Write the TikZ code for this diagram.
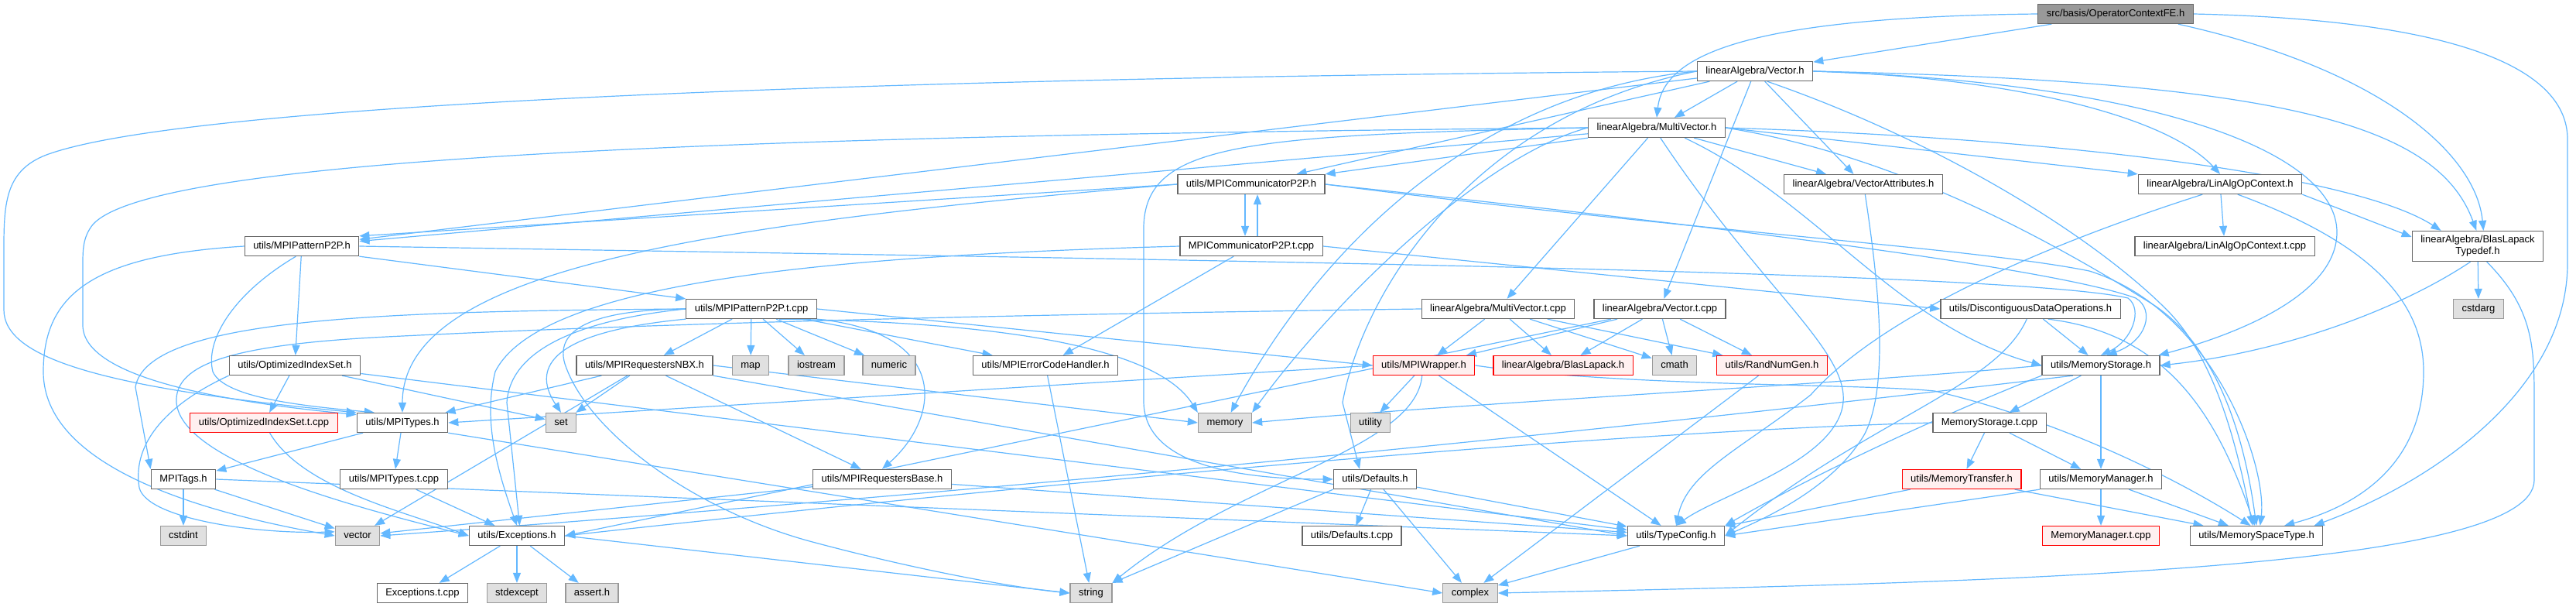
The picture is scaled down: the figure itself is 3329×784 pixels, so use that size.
\documentclass[tikz,border=0pt]{standalone}
\usepackage{fontspec}
\setmainfont{Liberation Sans}
\usetikzlibrary{arrows.meta,backgrounds}
\definecolor{edgeblue}{HTML}{63B8FF}
\definecolor{boxedge}{HTML}{666666}
\definecolor{sysedge}{HTML}{999999}
\definecolor{sysfill}{HTML}{E0E0E0}
\definecolor{rootfill}{HTML}{999999}
\definecolor{cutedge}{HTML}{FF0000}
\definecolor{cutfill}{HTML}{FFF0F0}

\begin{document}
\begin{tikzpicture}[
  x=1pt,y=-1pt,
  font=\fontsize{13}{15}\selectfont,
  box/.style={draw=boxedge,fill=white,line width=1.3pt,inner xsep=11pt,inner ysep=3pt,minimum height=25pt},
  hdr/.style={box,text height=9.5pt,text depth=2.5pt},
  syshdr/.style={hdr,draw=sysedge,fill=sysfill},
  cuthdr/.style={hdr,draw=cutedge,fill=cutfill},
  roothdr/.style={hdr,fill=rootfill},
  incl/.style={draw=edgeblue,line width=1.2pt,-{Triangle[length=13pt,width=10pt]}}
]
\useasboundingbox (0,0) rectangle (3329,784);

% Top ranks
\node[roothdr] (root) at (2734,18) {src/basis/OperatorContextFE.h};
\node[hdr] (vec) at (2268,92) {linearAlgebra/Vector.h};
\node[hdr] (mvec) at (2141,165) {linearAlgebra/MultiVector.h};
\node[hdr] (comm) at (1617,238) {utils/MPICommunicatorP2P.h};
\node[hdr] (vattr) at (2408,238) {linearAlgebra/VectorAttributes.h};
\node[hdr] (linctx) at (2869,238) {linearAlgebra/LinAlgOpContext.h};
\node[box,align=center,minimum height=39pt] (blastd) at (3202,318) {linearAlgebra/BlasLapack\\Typedef.h};
\node[hdr] (pat) at (390,318) {utils/MPIPatternP2P.h};
\node[hdr] (commt) at (1617,318) {MPICommunicatorP2P.t.cpp};
\node[hdr] (linctxt) at (2875,318) {linearAlgebra/LinAlgOpContext.t.cpp};

% Middle ranks
\node[hdr] (patt) at (971,399) {utils/MPIPatternP2P.t.cpp};
\node[hdr] (mvect) at (1936,399) {linearAlgebra/MultiVector.t.cpp};
\node[hdr] (vect) at (2145,399) {linearAlgebra/Vector.t.cpp};
\node[hdr] (discont) at (2624,399) {utils/DiscontiguousDataOperations.h};
\node[syshdr] (cstdarg) at (3203,399) {cstdarg};

\node[hdr] (optset) at (381,472) {utils/OptimizedIndexSet.h};
\node[hdr] (nbx) at (833,472) {utils/MPIRequestersNBX.h};
\node[syshdr] (map) at (970,472) {map};
\node[syshdr] (iostream) at (1055,472) {iostream};
\node[syshdr] (numeric) at (1149,472) {numeric};
\node[hdr] (errh) at (1351,472) {utils/MPIErrorCodeHandler.h};
\node[cuthdr] (wrap) at (1840,472) {utils/MPIWrapper.h};
\node[cuthdr] (blas) at (2020,472) {linearAlgebra/BlasLapack.h};
\node[syshdr] (cmath) at (2164,472) {cmath};
\node[cuthdr] (rng) at (2290,472) {utils/RandNumGen.h};
\node[hdr] (mstor) at (2715,472) {utils/MemoryStorage.h};

\node[cuthdr] (optsett) at (341,546) {utils/OptimizedIndexSet.t.cpp};
\node[hdr] (mtypes) at (520,546) {utils/MPITypes.h};
\node[syshdr] (set) at (725,546) {set};
\node[syshdr] (memory) at (1583,546) {memory};
\node[syshdr] (utility) at (1771,546) {utility};
\node[hdr] (mstort) at (2571,546) {MemoryStorage.t.cpp};

% Bottom ranks
\node[hdr] (tags) at (237,619) {MPITags.h};
\node[hdr] (mtypest) at (509,619) {utils/MPITypes.t.cpp};
\node[hdr] (rbase) at (1140,619) {utils/MPIRequestersBase.h};
\node[hdr] (defs) at (1777,619) {utils/Defaults.h};
\node[cuthdr] (mtrans) at (2535,619) {utils/MemoryTransfer.h};
\node[hdr] (mman) at (2715,619) {utils/MemoryManager.h};

\node[syshdr] (cstdint) at (237,692) {cstdint};
\node[syshdr] (vector) at (462,692) {vector};
\node[hdr] (exc) at (668,692) {utils/Exceptions.h};
\node[hdr] (defst) at (1747,692) {utils/Defaults.t.cpp};
\node[hdr] (tconf) at (2166,692) {utils/TypeConfig.h};
\node[cuthdr] (mmant) at (2715,692) {MemoryManager.t.cpp};
\node[hdr] (mspace) at (2916,692) {utils/MemorySpaceType.h};

\node[hdr] (exct) at (546,766) {Exceptions.t.cpp};
\node[syshdr] (stdexcept) at (668,766) {stdexcept};
\node[syshdr] (asserth) at (765,766) {assert.h};
\node[syshdr] (string) at (1410,766) {string};
\node[syshdr] (complex) at (1900,766) {complex};

\begin{scope}[on background layer]
\fill[white] (0,0) rectangle (3329,784);

% Root includes
\draw[incl] (root) -- (vec);
\draw[incl] (root.west) .. controls (2260,22) and (2150,70) .. (mvec.north);
\draw[incl] ([xshift=-20pt]root.south east) .. controls (3080,90) and (3200,200) .. (blastd.70);
\draw[incl] (root.east) .. controls (3150,25) and (3318,80) .. (3318,180) -- (3318,340)
  .. controls (3318,500) and (3150,620) .. (mspace.10);

% Vector.h
\draw[incl] (vec) -- (mvec);
\draw[incl] (vec) -- (comm);
\draw[incl] (vec) -- (vattr);
\draw[incl] (vec) -- (vect);
\draw[incl] (vec) -- (pat);
\draw[incl] (vec.east) .. controls (2600,100) and (2800,150) .. (linctx.north);
\draw[incl] (vec.east) .. controls (2950,105) and (3150,160) .. (blastd.95);
\draw[incl] (vec.east) .. controls (2800,108) and (3020,200) .. (3020,300)
  .. controls (3020,390) and (2860,440) .. (mstor.10);
\draw[incl] (vec.west) .. controls (1200,100) and (250,130) .. (60,200)
  .. controls (8,220) and (5,260) .. (5,320) -- (5,400)
  .. controls (5,460) and (120,500) .. (mtypes.north west);
\draw[incl] (vec.west) .. controls (1900,120) and (1700,330) .. (memory.60);
\draw[incl] (vec.west) .. controls (1900,150) and (1760,380) .. (1735,520) -- ([xshift=-20pt]defs.north);
\draw[incl] (vec.-40) .. controls (2500,180) and (2700,300) .. (2800,400)
  .. controls (2870,470) and (2895,600) .. (mspace.110);

% MultiVector.h
\draw[incl] (mvec.south west) -- (comm.north east);
\draw[incl] (mvec) -- (vattr);
\draw[incl] (mvec) -- (pat);
\draw[incl] (mvec) -- (mvect);
\draw[incl] (mvec.east) -- (linctx.north west);
\draw[incl] (mvec.east) .. controls (2700,180) and (3050,230) .. (blastd.157);
\draw[incl] (mvec.-20) .. controls (2350,260) and (2450,420) .. (mstor.west);
\draw[incl] (mvec.west) .. controls (1000,175) and (200,200) .. (120,290)
  .. controls (108,305) and (107,320) .. (107,340) -- (107,420)
  .. controls (107,490) and (300,520) .. (mtypes.170);
\draw[incl] (mvec.west) .. controls (1920,200) and (1730,380) .. (memory.north east);
\draw[incl] (mvec.west) .. controls (1600,175) and (1475,185) .. (1478,300) -- (1478,520)
  .. controls (1480,600) and (1600,619) .. (defs.west);
\draw[incl] (mvec.-70) .. controls (2280,380) and (2400,460) .. (2380,530)
  .. controls (2360,600) and (2220,640) .. (tconf.north);
\draw[incl] (mvec.east) .. controls (2450,200) and (2650,310) .. (2785,395)
  .. controls (2880,460) and (2905,600) .. (mspace.north);

% MPICommunicatorP2P
\draw[incl] ([xshift=-8pt]comm.south) -- ([xshift=-8pt]commt.north);
\draw[incl] ([xshift=8pt]commt.north) -- ([xshift=8pt]comm.south);
\draw[incl] (comm.west) -- (pat.north east);
\draw[incl] (comm.west) .. controls (900,290) and (520,350) .. (mtypes.north);
\draw[incl] (comm.east) .. controls (2200,290) and (2650,345) .. (2760,385)
  .. controls (2785,400) and (2775,440) .. (mstor.60);
\draw[incl] (comm.east) .. controls (2200,300) and (2550,320) .. (2700,350)
  .. controls (2860,400) and (2930,600) .. (mspace.70);
\draw[incl] (commt) -- (errh);
\draw[incl] (commt.east) -- (discont.west);
\draw[incl] (commt.west) .. controls (1100,330) and (700,360) .. (640,480)
  .. controls (625,540) and (640,600) .. (exc.north);

% MPIPatternP2P
\draw[incl] (pat) -- (optset);
\draw[incl] (pat.south east) -- (patt.north west);
\draw[incl] (pat.240) .. controls (300,380) and (265,440) .. (275,480)
  .. controls (290,515) and (400,525) .. (mtypes.160);
\draw[incl] (pat.west) .. controls (120,330) and (56,380) .. (56,480)
  .. controls (56,600) and (250,660) .. (vector.west);
\draw[incl] (pat.east) .. controls (1500,335) and (2600,350) .. (2750,385)
  .. controls (2770,400) and (2755,440) .. (mstor.north);
\draw[incl] (patt) -- (nbx);
\draw[incl] (patt) -- (map);
\draw[incl] (patt) -- (iostream);
\draw[incl] (patt) -- (numeric);
\draw[incl] (patt) -- (errh);
\draw[incl] (patt.east) -- (wrap.west);
\draw[incl] (patt.-20) .. controls (1250,415) and (1490,440) .. (memory.north west);
\draw[incl] (patt.south east) .. controls (1230,430) and (1215,540) .. (rbase.north);
\draw[incl] (patt.west) .. controls (500,402) and (190,410) .. (175,500) -- (tags.north west);
\draw[incl] (patt.west) .. controls (780,410) and (660,440) .. (655,520) -- (exc.75);
\draw[incl] (patt.south west) .. controls (700,430) and (690,480) .. (set.north);
\draw[incl] (patt.west) .. controls (780,400) and (715,420) .. (730,470)
  .. controls (760,560) and (900,660) .. (1050,700)
  .. controls (1200,740) and (1320,760) .. (string.west);

% Index sets and requesters
\draw[incl] (optset) -- (optsett);
\draw[incl] (optset) -- (set);
\draw[incl] (optset) -- (tconf);
\draw[incl] (optset.south west) .. controls (220,520) and (170,570) .. (180,630)
  .. controls (190,670) and (330,690) .. (vector.170);
\draw[incl] (optsett.-60) .. controls (390,630) and (520,660) .. (exc.west);
\draw[incl] (nbx) -- (rbase);
\draw[incl] (nbx) -- (mtypes);
\draw[incl] (nbx) -- (set);
\draw[incl] (nbx) -- (vector);
\draw[incl] (nbx.east) -- (memory.west);
\draw[incl] (nbx.south east) -- (tconf.west);
\draw[incl] (rbase) -- (vector);
\draw[incl] (rbase) -- (tconf);
\draw[incl] (errh) -- (string);

% MPIWrapper
\draw[incl] (wrap) -- (utility);
\draw[incl] (wrap) -- (tconf);
\draw[incl] (wrap.west) -- (mtypes.east);
\draw[incl] (wrap.-100) .. controls (1830,580) and (1600,620) .. (string.north east);
\draw[incl] (wrap.east) .. controls (2100,500) and (2400,495) .. (2500,505)
  .. controls (2650,540) and (2800,610) .. (mspace.120);

% Template sources
\draw[incl] (mvect) -- (wrap);
\draw[incl] (mvect) -- (blas);
\draw[incl] (mvect) -- (cmath);
\draw[incl] (mvect) -- (rng);
\draw[incl] (mvect.west) .. controls (1400,405) and (900,415) .. (500,435)
  .. controls (300,445) and (225,470) .. (228,520)
  .. controls (235,600) and (480,660) .. (exc.west);
\draw[incl] (vect) -- (wrap);
\draw[incl] (vect) -- (blas);
\draw[incl] (vect) -- (cmath);
\draw[incl] (vect) -- (rng);
\draw[incl] (vect) -- (exc.east);
\draw[incl] (rng) -- (complex);

% Linear algebra context
\draw[incl] (vattr.-80) .. controls (2430,380) and (2440,500) .. (2410,560)
  .. controls (2370,630) and (2280,670) .. (tconf.east);
\draw[incl] (linctx) -- (linctxt);
\draw[incl] (linctx.south east) -- (blastd.172);
\draw[incl] (linctx.-30) .. controls (3080,320) and (3132,400) .. (3132,480)
  .. controls (3132,590) and (3060,650) .. (mspace.20);
\draw[incl] (linctx.210) .. controls (2600,330) and (2420,420) .. (2340,510)
  .. controls (2250,580) and (2180,610) .. (tconf.north);
\draw[incl] (blastd) -- (cstdarg);
\draw[incl] (blastd.-115) .. controls (3100,400) and (2950,455) .. (mstor.east);
\draw[incl] (blastd.-60) .. controls (3275,400) and (3275,450) .. (3275,520) -- (3275,620)
  .. controls (3275,735) and (2600,752) .. (complex.east);

% Memory
\draw[incl] (discont) -- (mstor);
\draw[incl] (discont.-30) .. controls (2790,430) and (2860,520) .. (mspace.100);
\draw[incl] (discont.-110) .. controls (2580,500) and (2420,540) .. (tconf.east);
\draw[incl] (mstor) -- (mstort);
\draw[incl] (mstor) -- (mman);
\draw[incl] (mstor.west) .. controls (2400,495) and (1900,520) .. (memory.east);
\draw[incl] (mstor.200) .. controls (2300,530) and (1500,620) .. (vector.east);
\draw[incl] (mstor.south west) .. controls (2500,540) and (2350,610) .. (tconf.north east);
\draw[incl] (mstort) -- (mtrans);
\draw[incl] (mstort) -- (mman);
\draw[incl] (mstort.west) .. controls (2000,560) and (1200,640) .. (exc.east);
\draw[incl] (mman) -- (mmant);
\draw[incl] (mman) -- (mspace);
\draw[incl] (mman.south west) -- (tconf.east);
\draw[incl] (mtrans) -- (mspace);
\draw[incl] (mtrans) -- (tconf);

% Basic utils
\draw[incl] (mtypes) -- (tags);
\draw[incl] (mtypes) -- (mtypest);
\draw[incl] (mtypes.south east) -- (complex.west);
\draw[incl] (mtypest) -- (exc);
\draw[incl] (tags) -- (cstdint);
\draw[incl] (tags) -- (vector);
\draw[incl] (tags.east) -- (tconf.west);
\draw[incl] (exc) -- (exct);
\draw[incl] (exc) -- (stdexcept);
\draw[incl] (exc) -- (asserth);
\draw[incl] (exc.east) -- (string.west);
\draw[incl] (defs) -- (defst);
\draw[incl] (defs) -- (complex);
\draw[incl] (defs) -- (tconf);
\draw[incl] (defs.south west) -- (string.north east);
\draw[incl] (tconf) -- (complex);
\end{scope}
\end{tikzpicture}
\end{document}
